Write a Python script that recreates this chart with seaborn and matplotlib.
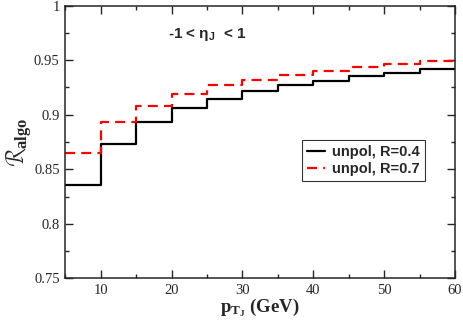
import numpy as np
import pandas as pd
import matplotlib
matplotlib.use('Agg')
import matplotlib.pyplot as plt
import seaborn as sns
from matplotlib.ticker import MultipleLocator

# bin edges in pT (GeV) and step heights
pt_edges = [5, 10, 15, 20, 25, 30, 35, 40, 45, 50, 55, 60]
r04 = [0.836, 0.873, 0.893, 0.906, 0.914, 0.922, 0.927, 0.931, 0.9355, 0.9386, 0.9417]
r07 = [0.865, 0.893, 0.908, 0.919, 0.927, 0.932, 0.9364, 0.940, 0.9438, 0.9462, 0.9493]
labels = ['unpol, R=0.4', 'unpol, R=0.7']

sns.set_style('ticks')
plt.rcParams['font.family'] = ['Liberation Serif', 'DejaVu Serif']
plt.rcParams['mathtext.fontset'] = 'custom'
plt.rcParams['mathtext.rm'] = 'Liberation Serif'
plt.rcParams['mathtext.bf'] = 'Liberation Serif:bold'
plt.rcParams['mathtext.it'] = 'Liberation Serif:italic'

fig = plt.figure(figsize=(4.63, 3.26), dpi=100)
ax = fig.add_axes([0.141, 0.1463, 0.8417, 0.8362])

# steps-post needs the last value repeated at the right edge
df04 = pd.DataFrame({'pt': pt_edges, 'R': r04 + [r04[-1]]})
df07 = pd.DataFrame({'pt': pt_edges, 'R': r07 + [r07[-1]]})

sns.lineplot(data=df04, x='pt', y='R', ax=ax, color='black', lw=1.6,
             drawstyle='steps-post', estimator=None, label=labels[0])
sns.lineplot(data=df07, x='pt', y='R', ax=ax, color='#ff0000', lw=1.6,
             drawstyle='steps-post', estimator=None, label=labels[1],
             linestyle=(0, (4.5, 2.8)))

ax.set_xlim(5, 60)
ax.set_ylim(0.75, 1.0)
ax.xaxis.set_major_locator(MultipleLocator(10))
ax.xaxis.set_minor_locator(MultipleLocator(5))
ax.yaxis.set_major_locator(MultipleLocator(0.05))
ax.yaxis.set_minor_locator(MultipleLocator(0.025))
ax.set_yticks([0.75, 0.8, 0.85, 0.9, 0.95, 1.0])
ax.set_yticklabels(['0.75', '0.8', '0.85', '0.9', '0.95', '1'])
ax.tick_params(which='both', direction='in', top=True, right=True,
               labelsize=10.5, width=1.0, pad=4)
ax.tick_params(which='major', length=6)
ax.tick_params(which='minor', length=3)
for s in ax.spines.values():
    s.set_linewidth(1.1)

ax.set_xlabel(r'$\mathbf{p_{T_J}}$ (GeV)', fontsize=13.5, fontweight='bold', labelpad=0)
ax.set_ylabel(r'$\mathcal{R}_{\mathbf{algo}}$', fontsize=17, labelpad=0)

ax.text(19.5, 0.974, r'-1 < $\mathregular{\eta_J}$  < 1', fontsize=11,
        fontweight='bold', family=['Liberation Sans', 'DejaVu Sans'],
        va='center', ha='left')

leg = ax.legend(loc='upper left', bbox_to_anchor=(0.608, 0.508),
                prop={'family': 'Liberation Sans', 'weight': 'bold', 'size': 10.5},
                frameon=True, fancybox=False, edgecolor='black',
                handlelength=1.2, handletextpad=0.5, borderpad=0.35,
                labelspacing=0.2, borderaxespad=0)
leg.get_frame().set_linewidth(0.8)

fig.savefig('out.png', dpi=100)
